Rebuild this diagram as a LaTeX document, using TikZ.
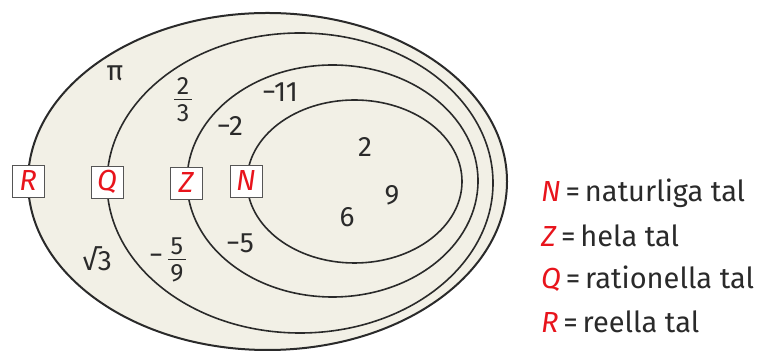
\documentclass[tikz,border=0pt]{standalone}
\usepackage{fontspec}
\setmainfont{Fira Sans}
\newfontfamily\numfont{Fira Sans}
\definecolor{cream}{HTML}{F2F0E6}
\definecolor{boxred}{HTML}{E8141C}
\definecolor{ink}{HTML}{2A2A2A}
\begin{document}
\begin{tikzpicture}[x=1pt,y=1pt,
  setline/.style={draw=ink,line width=1.6pt,fill=cream},
  setbox/.style={draw=ink!80,line width=0.9pt,fill=white,minimum size=32pt,inner sep=0pt,
     font=\fontsize{29}{29}\selectfont\itshape,text=boxred},
  num/.style={font=\numfont\fontsize{28}{28}\selectfont,text=ink,inner sep=0pt},
  frac/.style={font=\numfont\fontsize{25}{25}\selectfont,text=ink,inner sep=0pt},
  legend/.style={font=\fontsize{29}{29}\selectfont,text=ink,anchor=west,inner sep=0pt}]
\useasboundingbox (0,0) rectangle (759,352);
\fill[white] (0,0) rectangle (759,352);
% sets
\draw[setline,line width=2pt] (267.5,170.5) ellipse [x radius=239.5,y radius=168.5];
\draw[setline] (300,169) ellipse [x radius=193,y radius=150];
\draw[setline] (332.5,171) ellipse [x radius=145.5,y radius=116];
\draw[setline] (354.5,170.5) ellipse [x radius=107.5,y radius=81.5];
% boxes
\node[setbox] (bR) at (28,171) {R};
\node[setbox] (bQ) at (107,170) {Q};
\node[setbox] (bZ) at (186,169) {Z};
\node[setbox] (bN) at (246,171) {N};
% elements
\node[num] (pi) at (115,279) {π};
\node[frac] (f1n) at (183,266) {2};
\node[frac] (f1d) at (183,239) {3};
\draw[ink,line width=0.8pt] (174,252.5) -- (192,252.5);
\node[num] (m2) at (230,226) {−2};
\node[num] (m11) at (280,260) {−11};
\node[num] (n2) at (365,205) {2};
\node[num] (n9) at (392,157) {9};
\node[num] (n6) at (347,135) {6};
\node[num] (m5) at (240,109) {−5};
\node[num] (r3) at (97,93) {√3};
\node[num] (fm) at (156,93) {−};
\node[frac] (f2n) at (177,106) {5};
\node[frac] (f2d) at (177,79) {9};
\draw[ink,line width=0.8pt] (168,92.5) -- (186,92.5);
% legend
\node[legend] (lN) at (541,159) {\textcolor{boxred}{\itshape N}\,=\,naturliga tal};
\node[legend] (lZ) at (541,116) {\textcolor{boxred}{\itshape Z}\,=\,hela tal};
\node[legend] (lQ) at (541,73) {\textcolor{boxred}{\itshape Q}\,=\,rationella tal};
\node[legend] (lR) at (541,30) {\textcolor{boxred}{\itshape R}\,=\,reella tal};
\end{tikzpicture}
\end{document}
